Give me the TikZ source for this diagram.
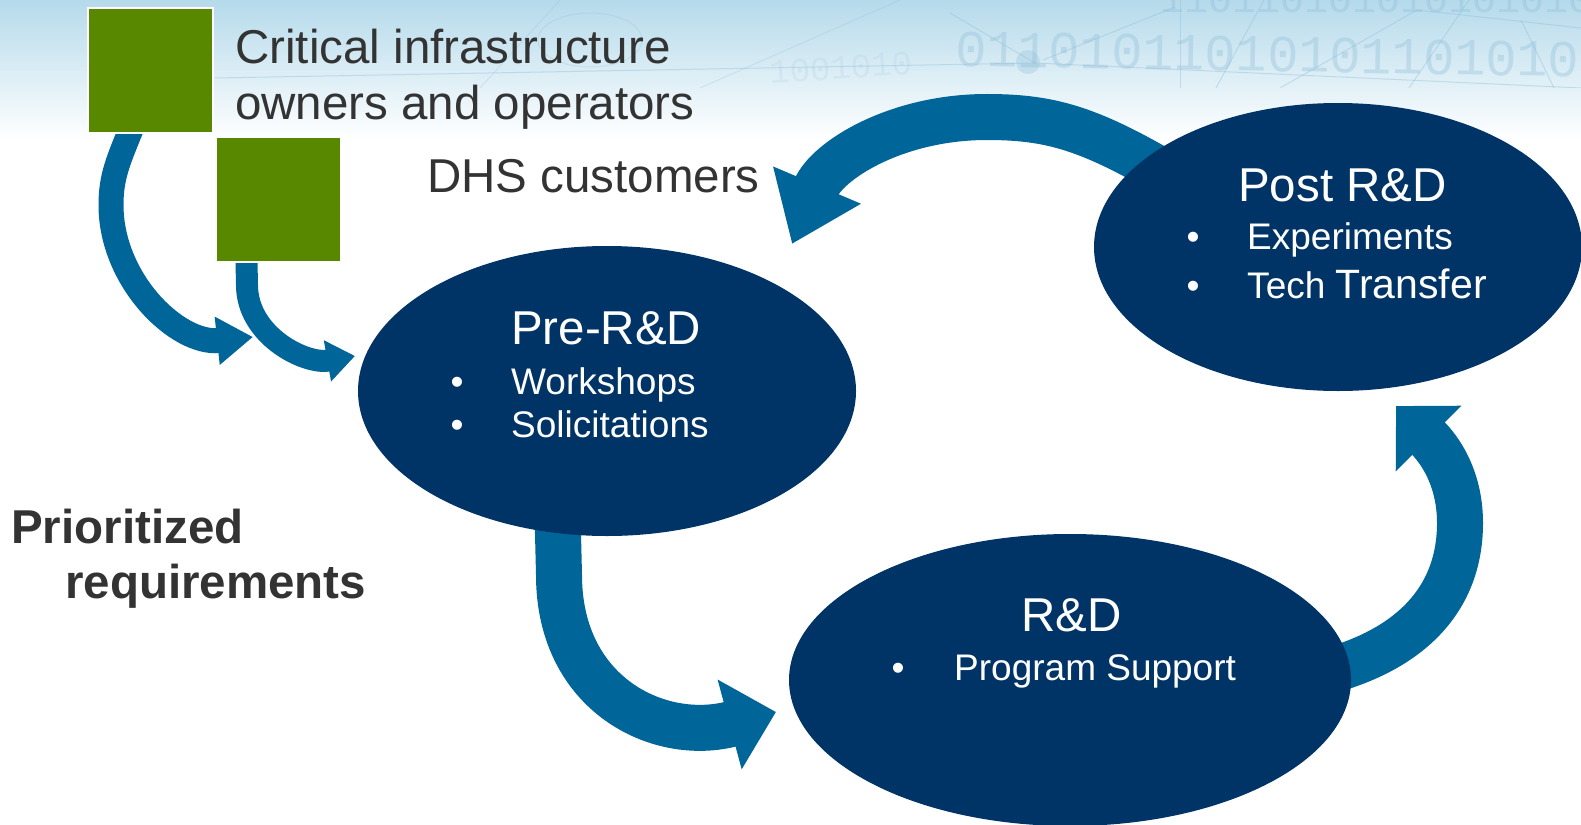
\documentclass[tikz,border=0pt]{standalone}
\usepackage{fontspec}
\setmainfont{Liberation Sans}
\newfontfamily\digitfont{Liberation Mono}
\usetikzlibrary{shapes.geometric,arrows.meta}

\definecolor{navy}{HTML}{003466}
\definecolor{flowblue}{HTML}{006699}
\definecolor{leafgreen}{HTML}{588700}
\definecolor{inkgray}{HTML}{333333}
\definecolor{skyblue}{HTML}{B5DAEB}
\definecolor{digitblue}{HTML}{8DBDD8}

\pgfdeclarelayer{backdrop}
\pgfdeclarelayer{arrows}
\pgfsetlayers{backdrop,arrows,main}

\begin{document}
\begin{tikzpicture}[x=1pt,y=1pt,
  stage/.style={ellipse, fill=navy, inner sep=0pt},
  owner/.style={fill=leafgreen, draw=white, line width=2pt, minimum size=125pt,
                inner sep=0pt, outer sep=0pt, anchor=north west},
  bigtext/.style={anchor=base west, inner sep=0pt, text=inkgray,
                  font=\fontsize{47.5}{57}\selectfont},
  boldtext/.style={bigtext, font=\fontsize{47.5}{57}\selectfont\bfseries},
  titletext/.style={anchor=base west, inner sep=0pt, text=white,
                    font=\fontsize{47.5}{57}\selectfont},
  itemtext/.style={anchor=base west, inner sep=0pt, text=white,
                   font=\fontsize{37}{44}\selectfont},
  bullet/.style={anchor=base, inner sep=0pt, text=white,
                 font=\fontsize{37}{44}\selectfont},
  bits/.style={inner sep=0pt, text=digitblue, text opacity=0.35, anchor=base west,
               font=\digitfont\fontsize{52}{52}\selectfont},
  gridline/.style={draw=digitblue, line width=1pt, opacity=0.4},
  cyclearrow/.style={draw=flowblue, line width=#1},
]
\useasboundingbox (0,0) rectangle (1581,-824);

% ---- page background: pale blue band fading to white ----
\begin{pgfonlayer}{backdrop}
\fill[white] (0,0) rectangle (1581,-824);
\shade[top color=skyblue, bottom color=white] (0,0) rectangle (1581,-140);
\begin{scope}
  \clip (0,0) rectangle (1581,-88);
  % network lines
  \draw[gridline] (1035,-63) -- (1581,-88);
  \draw[gridline] (215,-78) -- (1035,-63);
  \draw[gridline] (950,-13) -- (1035,-63);
  \draw[gridline] (1043,-60) -- (1175,-7);
  \draw[gridline] (1180,0) -- (1180,-88);
  \draw[gridline] (1264,0) -- (1216,-88);
  \draw[gridline] (1280,-88) -- (1417,-10);
  \draw[gridline] (1469,0) -- (1409,-88);
  \draw[gridline] (1521,-20) -- (1554,-88);
  \draw[gridline] (1417,-10) -- (1581,-28);
  \draw[gridline, opacity=0.25] (560,0) -- (480,-88);
  \draw[gridline, opacity=0.25] (700,-88) -- (900,0);
  \draw[gridline, opacity=0.25] (590,-40) ellipse (52pt and 27pt);
  \fill[digitblue, opacity=0.3] (1028,-62) circle (12pt);
  % binary digits
  \node[bits, rotate=-1] (bitsLow) at (955,-66) {0110101101010110101011010};
  \node[bits, font=\digitfont\fontsize{40}{40}\selectfont] (bitsTop) at (1160,-13) {110110101010101010};
  \node[bits, text opacity=0.15, rotate=4,
        font=\digitfont\fontsize{34}{34}\selectfont] (bitsLeft) at (770,-84) {1001010};
\end{scope}
\end{pgfonlayer}

% ---- stages ----
\node[stage, minimum width=498pt, minimum height=290pt] (pre)  at (607,-391) {};
\node[stage, minimum width=488pt, minimum height=288pt] (post) at (1338,-247) {};
\node[stage, minimum width=562pt, minimum height=292pt] (rd)   at (1070,-680) {};

% ---- requirement owners ----
\node[owner] (sqInfra) at (88,-8) {};
\node[owner] (sqDHS)   at (216,-137) {};

% ---- tips of the curved arrows ----
\coordinate (tipDHS)  at (792,-244);
\coordinate (tipRD)   at (776,-712);
\coordinate (tipPost) at (1396,-406);
\coordinate (tipPreA) at (253,-337);
\coordinate (tipPreB) at (355,-356);

% ---- curved arrows, tucked beneath the shapes they leave ----
\begin{pgfonlayer}{arrows}
\draw[cyclearrow=46pt, -{Triangle[length=64pt,width=91pt]}, shorten <=-25pt]
  (post.156) to[out=150,in=0] (987,-117) to[out=180,in=67] (tipDHS);
\draw[cyclearrow=46pt, -{Triangle[length=48pt,width=90pt]}, shorten <=-25pt]
  (pre.251) -- (559,-575) to[out=-90,in=195,looseness=1.2] (tipRD);
\draw[cyclearrow=46pt, -{Triangle[length=46pt,width=90pt]}, shorten <=-25pt]
  (rd.3) to[out=15,in=-90] (1460,-523) to[out=90,in=-45] (tipPost);
\draw[cyclearrow=25pt, -{Triangle[length=36pt,width=46pt]}, shorten <=-8pt]
  ([xshift=-21pt]sqInfra.south) to[out=-112,in=90] (111,-205) to[out=-90,in=186] (tipPreA);
\draw[cyclearrow=22pt, -{Triangle[length=28pt,width=40pt]}, shorten <=-8pt]
  ([xshift=-32pt]sqDHS.south) -- (247,-285) to[out=-90,in=190] (tipPreB);
\end{pgfonlayer}

% ---- outer labels ----
\node[bigtext] (infra1) at (235,-64)  {Critical infrastructure};
\node[bigtext] (infra2) at (235,-120) {owners and operators};
\node[bigtext] (dhs)    at (427,-192) {DHS customers};
\node[boldtext] (prio1) at (11,-543)  {Prioritized};
\node[boldtext] (prio2) at (65,-598)  {requirements};

% ---- Pre-R&D ----
\node[titletext] (preTitle) at (511,-344) {Pre-R\&D};
\node[bullet]   (preDotA)  at (457,-394) {•};
\node[itemtext] (preItemA) at (511,-394) {Workshops};
\node[bullet]   (preDotB)  at (457,-437) {•};
\node[itemtext] (preItemB) at (511,-437) {Solicitations};

% ---- Post R&D ----
\node[titletext] (postTitle) at (1238,-201) {Post R\&D};
\node[bullet]   (postDotA)  at (1193,-249) {•};
\node[itemtext] (postItemA) at (1247,-249) {Experiments};
\node[bullet]   (postDotB)  at (1193,-298) {•};
\node[itemtext] (postItemB) at (1247,-298) {Tech {\fontsize{41}{48}\selectfont Transfer}};

% ---- R&D ----
\node[titletext] (rdTitle) at (1021,-631) {R\&D};
\node[bullet]   (rdDot)   at (898,-680) {•};
\node[itemtext] (rdItem)  at (954,-680) {Program Support};
\end{tikzpicture}
\end{document}
